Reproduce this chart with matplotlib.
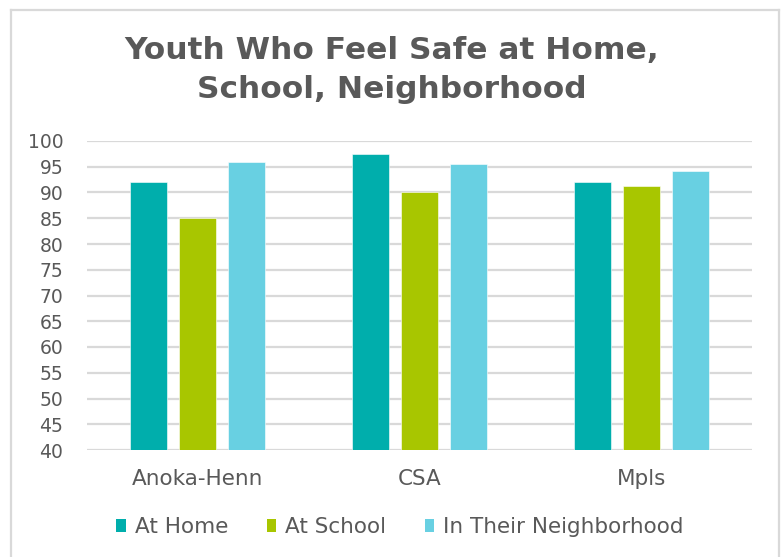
import matplotlib
matplotlib.use("Agg")
import matplotlib.pyplot as plt
from matplotlib.patches import Patch
import numpy as np

# Survey results: share of youth (%) who feel safe in each setting
categories = ["Anoka-Henn", "CSA", "Mpls"]
series_names = ["At Home", "At School", "In Their Neighborhood"]
at_home = [92.0, 97.5, 92.0]
at_school = [85.0, 90.0, 91.3]
in_neighborhood = [96.0, 95.5, 94.1]
y_ticks = [40, 45, 50, 55, 60, 65, 70, 75, 80, 85, 90, 95, 100]

colors = ["#00AEAC", "#A8C600", "#68D0E2"]
text_color = "#595959"
grid_color = "#D9D9D9"

plt.rcParams["font.family"] = ["DejaVu Sans"]

fig = plt.figure(figsize=(7.84, 5.57), dpi=100)
fig.patch.set_facecolor("white")

# outer chart frame (open at the bottom)
W, H = 784, 557
frame_kw = dict(color=grid_color, lw=1.6, transform=fig.transFigure)
fig.add_artist(plt.Line2D([11 / W, 11 / W], [0, 1 - 9.5 / H], **frame_kw))
fig.add_artist(plt.Line2D([11 / W, 779 / W], [1 - 9.5 / H, 1 - 9.5 / H], **frame_kw))
fig.add_artist(plt.Line2D([779 / W, 779 / W], [1 - 9.5 / H, 0], **frame_kw))

left, right = 87 / W, 752 / W
bottom, top = 1 - 450 / H, 1 - 141 / H
ax = fig.add_axes([left, bottom, right - left, top - bottom])

x = np.arange(len(categories))
bar_w = 0.168
step = 0.221
all_series = [at_home, at_school, in_neighborhood]
for i, (vals, col, name) in enumerate(zip(all_series, colors, series_names)):
    ax.bar(x + (i - 1) * step, vals, width=bar_w, color=col, label=name,
           zorder=3, edgecolor="white", linewidth=0.4)

ax.set_xlim(-0.5, len(categories) - 0.5)
ax.set_ylim(40, 100)
ax.set_yticks(y_ticks)
ax.set_xticks(x)
ax.set_xticklabels(categories)
ax.yaxis.grid(True, color=grid_color, lw=1.6, zorder=0)
ax.set_axisbelow(True)
for s in ax.spines.values():
    s.set_visible(False)
ax.tick_params(axis="y", length=0, labelsize=13.5, colors=text_color, pad=17)
ax.tick_params(axis="x", length=0, labelsize=15.5, colors=text_color, pad=14)

fig.text(0.5, 1 - 70 / H, "Youth Who Feel Safe at Home,\nSchool, Neighborhood",
         ha="center", va="center", fontsize=22.5, fontweight="bold",
         color=text_color, linespacing=1.4)

handles = [Patch(facecolor=c, edgecolor="none") for c in colors]
fig.legend(handles, series_names, loc="center", bbox_to_anchor=(0.51, 1 - 527 / H),
           ncol=3, frameon=False, fontsize=15.5, labelcolor=text_color,
           handlelength=0.45, handleheight=0.6, handletextpad=0.4,
           columnspacing=1.8)

fig.savefig("out.png", dpi=100, facecolor="white")
